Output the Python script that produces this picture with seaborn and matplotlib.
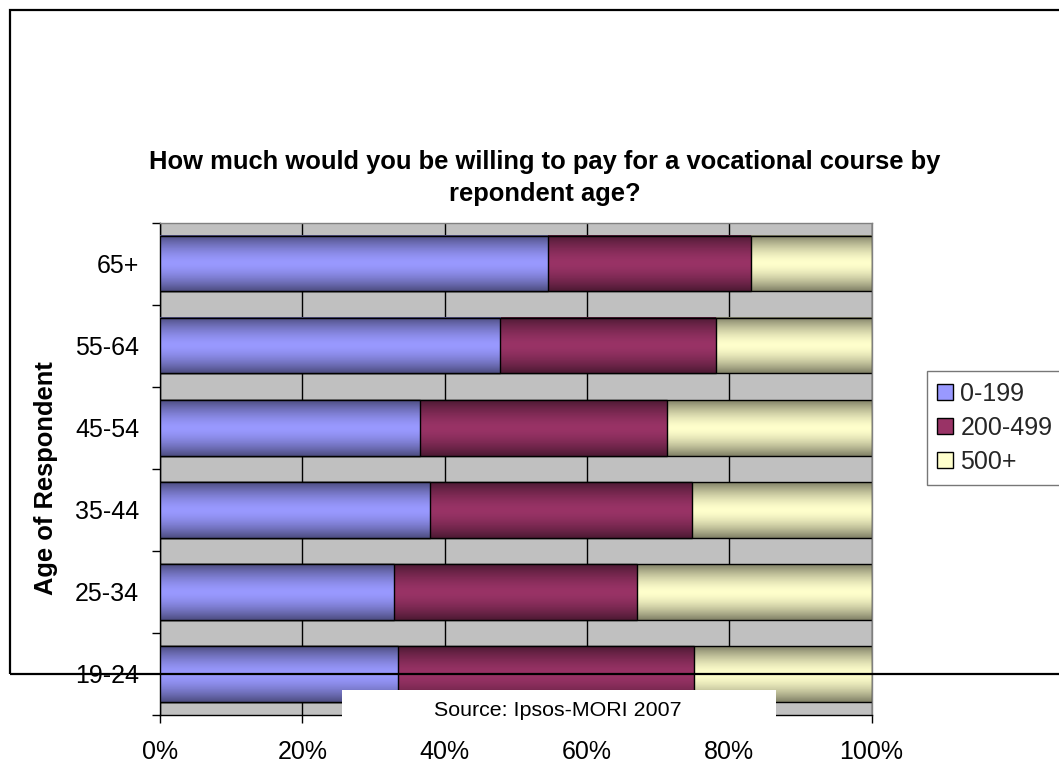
import numpy as np
import pandas as pd
import matplotlib
matplotlib.use("Agg")
import matplotlib.pyplot as plt
import seaborn as sns
from matplotlib.patches import Rectangle
from matplotlib.lines import Line2D
from matplotlib.colors import to_rgb

# ---- data -------------------------------------------------------------
ages = ["65+", "55-64", "45-54", "35-44", "25-34", "19-24"]
band_labels = ["0-199", "200-499", "500+"]
share_0_199 = [54.5, 47.8, 36.6, 38.0, 32.9, 33.4]
share_200_499 = [28.5, 30.3, 34.6, 36.8, 34.1, 41.6]
share_500_plus = [17.0, 21.9, 28.8, 25.2, 33.0, 25.0]
band_colors = ["#9999FF", "#993366", "#FFFFCC"]

x_ticks = [0, 20, 40, 60, 80, 100]
x_tick_labels = ["0%", "20%", "40%", "60%", "80%", "100%"]
title_text = "How much would you be willing to pay for a vocational course by\nrepondent age?"
y_label_text = "Age of Respondent"
source_text = "Source: Ipsos-MORI 2007"

# ---- style ------------------------------------------------------------
sns.set_theme(style="white")
plt.rcParams["font.family"] = ["Liberation Sans", "DejaVu Sans"]

W, H = 1059, 764
fig = plt.figure(figsize=(W / 100, H / 100), dpi=100)
fig.patch.set_facecolor("white")

def fx(px):
    return px / W

def fy(py):
    return 1 - py / H

ax = fig.add_axes([fx(160), fy(715), fx(871.5) - fx(160), fy(222.7) - fy(715)])
ax.set_facecolor("#C0C0C0")

# stacked bars: draw cumulative totals from the widest to the narrowest
df = pd.DataFrame({
    "age": ages,
    "b1": share_0_199,
    "b2": share_200_499,
    "b3": share_500_plus,
})
df["c1"] = df["b1"]
df["c2"] = df["b1"] + df["b2"]
df["c3"] = df["b1"] + df["b2"] + df["b3"]

layers = [("c3", band_colors[2]), ("c2", band_colors[1]), ("c1", band_colors[0])]
layer_patches = []
for col, colr in layers:
    before = len(ax.patches)
    sns.barplot(data=df, x=col, y="age", order=ages, orient="h", color=colr,
                saturation=1, width=0.675, edgecolor="black", linewidth=1.0,
                ax=ax)
    layer_patches.append((colr, ax.patches[before:]))

# shaded cylinder look: dark at the top/bottom edges, full colour in the middle
n = 160
t = np.linspace(-1, 1, n)
shade = 1 - 0.5 * np.abs(t) ** 1.6
for k, (colr, patches) in enumerate(layer_patches):
    base = np.array(to_rgb(colr))
    grad = (shade[:, None] * base[None, :])[:, None, :]
    z = 2 + k
    for p in patches:
        x0, y0 = p.get_x(), p.get_y()
        w, h = p.get_width(), p.get_height()
        ax.imshow(grad, extent=(x0, x0 + w, y0 + h, y0), aspect="auto",
                  interpolation="bilinear", zorder=z)
        p.set_facecolor("none")
        p.set_zorder(z + 0.5)

ax.set_xlim(0, 100)
ax.set_ylim(len(ages) - 0.5, -0.5)
ax.set_xlabel("")
ax.set_ylabel("")

# grid and axes
ax.set_axisbelow(True)
ax.xaxis.grid(True, color="black", linewidth=1.0, zorder=0.5)
ax.yaxis.grid(False)
ax.set_xticks(x_ticks)
ax.set_xticklabels(x_tick_labels)
ax.set_yticks(range(len(ages)))
ax.set_yticklabels(ages)
ax.set_yticks(np.arange(-0.5, len(ages), 1), minor=True)
ax.tick_params(axis="x", which="major", direction="out", length=6, width=1,
               color="black", labelsize=18, pad=12)
ax.tick_params(axis="y", which="major", length=0, labelsize=18, pad=15)
ax.tick_params(axis="y", which="minor", direction="out", length=6, width=1,
               color="black", left=True)
ax.tick_params(axis="x", which="both", bottom=True)
for side in ["left", "bottom"]:
    ax.spines[side].set_color("black")
    ax.spines[side].set_linewidth(1.0)
for side in ["top", "right"]:
    ax.spines[side].set_color("#808080")
    ax.spines[side].set_linewidth(1.0)
for lbl in ax.get_xticklabels() + ax.get_yticklabels():
    lbl.set_color("black")

# title and axis label
fig.text(fx(545), fy(178), title_text, ha="center", va="center",
         fontsize=18.4, fontweight="bold", linespacing=1.38, color="black")
fig.text(fx(46), fy(478), y_label_text, ha="center", va="center",
         rotation=90, fontsize=18.4, fontweight="bold", color="black")

# legend
handles = [Line2D([], [], linestyle="none", marker="s", markersize=11,
                  markerfacecolor=c, markeredgecolor="black",
                  markeredgewidth=1.0) for c in band_colors]
leg = fig.legend(handles, band_labels, loc="upper left",
                 bbox_to_anchor=(fx(926.7), fy(370.7)), frameon=True,
                 fancybox=False, shadow=False, fontsize=18,
                 handlelength=0.6, handletextpad=0.3, labelspacing=0.4,
                 borderpad=0.45, borderaxespad=0)
leg.get_frame().set_edgecolor("#555555")
leg.get_frame().set_linewidth(1.0)

# chart frame (extends past the right edge of the image)
frame = Rectangle((fx(10), fy(674)), fx(1100) - fx(10), fy(10) - fy(674),
                  transform=fig.transFigure, facecolor="none",
                  edgecolor="black", linewidth=1.6, zorder=10)
fig.add_artist(frame)

# source note on a white box
src_box = Rectangle((fx(342), fy(733)), fx(776) - fx(342), fy(690) - fy(733),
                    transform=fig.transFigure, facecolor="white",
                    edgecolor="none", zorder=11)
fig.add_artist(src_box)
fig.text(fx(558), fy(711), source_text, ha="center", va="center",
         fontsize=15.4, color="black", zorder=12)

fig.savefig("out.png", dpi=100)
